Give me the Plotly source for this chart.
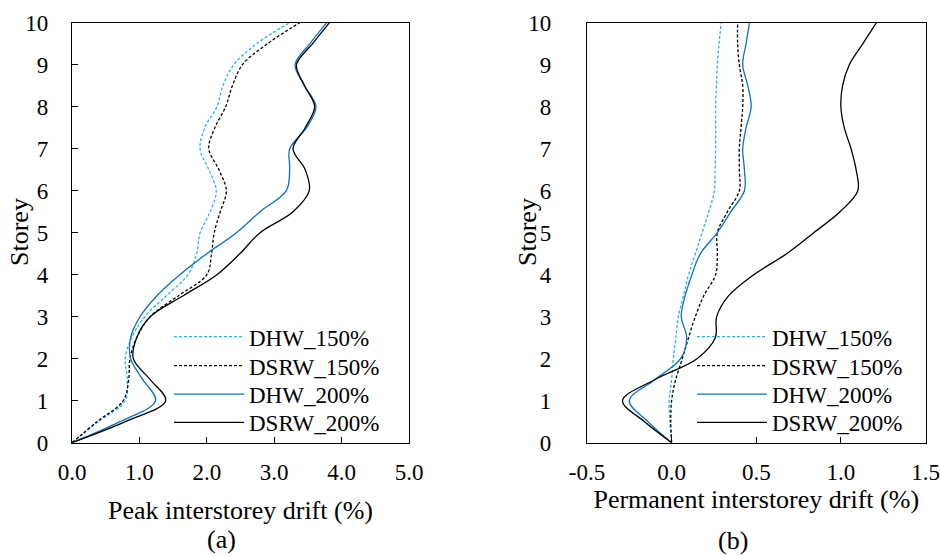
import plotly.graph_objects as go

# ---------------- data ----------------
storey = [0, 0.5, 1, 1.5, 2, 2.5, 3, 3.5, 4, 4.5, 5, 5.5, 6, 6.5, 7, 7.5, 8, 8.5, 9, 9.5, 10]

# (a) Peak interstorey drift (%)
peak_dhw_150 = [0, 0.39, 0.79, 0.82, 0.79, 0.885, 1.08, 1.40, 1.72, 1.85, 1.90, 2.05, 2.14, 2.03, 1.90, 1.97, 2.15, 2.24, 2.40, 2.74, 3.23]
peak_dsrw_150 = [0, 0.37, 0.76, 0.84, 0.86, 0.96, 1.16, 1.58, 2.00, 2.07, 2.11, 2.20, 2.29, 2.18, 2.03, 2.12, 2.28, 2.38, 2.53, 2.90, 3.38]
peak_dhw_200 = [0, 0.71, 1.24, 1.05, 0.87, 0.87, 1.01, 1.26, 1.60, 2.00, 2.44, 2.79, 3.18, 3.23, 3.23, 3.48, 3.62, 3.45, 3.31, 3.53, 3.78]
peak_dsrw_200 = [0, 0.79, 1.39, 1.16, 0.91, 0.96, 1.16, 1.65, 2.15, 2.49, 2.79, 3.28, 3.52, 3.46, 3.28, 3.46, 3.60, 3.45, 3.33, 3.57, 3.82]

# (b) Permanent interstorey drift (%)
perm_dhw_150 = [0, -0.01, -0.015, 0.0, 0.01, 0.025, 0.04, 0.07, 0.10, 0.14, 0.18, 0.22, 0.253, 0.257, 0.26, 0.26, 0.26, 0.265, 0.27, 0.28, 0.293]
perm_dsrw_150 = [0, -0.005, 0.0, 0.024, 0.063, 0.10, 0.14, 0.19, 0.26, 0.27, 0.27, 0.33, 0.40, 0.40, 0.40, 0.41, 0.42, 0.42, 0.40, 0.39, 0.39]
perm_dhw_200 = [0, -0.14, -0.25, -0.10, 0.053, 0.089, 0.057, 0.08, 0.12, 0.17, 0.27, 0.35, 0.43, 0.43, 0.42, 0.44, 0.47, 0.45, 0.42, 0.44, 0.46]
perm_dsrw_200 = [0, -0.16, -0.29, -0.10, 0.15, 0.258, 0.266, 0.337, 0.485, 0.68, 0.84, 0.995, 1.10, 1.09, 1.06, 1.02, 1.00, 1.01, 1.05, 1.13, 1.21]

series_names = ["DHW_150%", "DSRW_150%", "DHW_200%", "DSRW_200%"]

peak_ticks = [0, 1, 2, 3, 4, 5]
peak_ticktext = ["0.0", "1.0", "2.0", "3.0", "4.0", "5.0"]
perm_ticks = [-0.5, 0, 0.5, 1.0, 1.5]
perm_ticktext = ["-0.5", "0.0", "0.5", "1.0", "1.5"]
storey_ticks = list(range(0, 11))

x_titles = ["Peak interstorey drift (%)", "Permanent interstorey drift (%)"]
y_title = "Storey"
panel_labels = ["(a)", "(b)"]

# ---------------- styles ----------------
FONT = "Liberation Serif"
styles = [
    dict(color="#1FB4EE", width=1.3, dash="3px,2px"),
    dict(color="#000000", width=1.3, dash="3px,2px"),
    dict(color="#0A72C4", width=1.3, dash="solid"),
    dict(color="#000000", width=1.3, dash="solid"),
]

W, H = 941, 556
left_dom = [72 / W, 409 / W]
right_dom = [587 / W, 925.5 / W]
y_dom = [(H - 442.7) / H, (H - 22.7) / H]
zero_pos = right_dom[0] + (0 - perm_ticks[0]) / (perm_ticks[-1] - perm_ticks[0]) * (right_dom[1] - right_dom[0])

legend_rows_px = [336.7, 365.7, 394.2, 422.5]
left_leg_x = 169
right_leg_x = 692

fig = go.Figure()

peak_sets = [peak_dhw_150, peak_dsrw_150, peak_dhw_200, peak_dsrw_200]
perm_sets = [perm_dhw_150, perm_dsrw_150, perm_dhw_200, perm_dsrw_200]

legfont = dict(family=FONT, size=23, color="black")
legends = {}
for i, (name, vals, st) in enumerate(zip(series_names, peak_sets, styles)):
    lg = "legend" if i == 0 else f"legend{i + 1}"
    legends[lg] = dict(x=left_leg_x / W, y=(H - legend_rows_px[i]) / H, xanchor="left", yanchor="middle",
                       bgcolor="rgba(0,0,0,0)", font=legfont, itemwidth=70)
    fig.add_trace(go.Scatter(x=vals, y=storey, mode="lines", name=name,
                             line=dict(shape="spline", smoothing=1.0, **st),
                             xaxis="x", yaxis="y", legend=lg))
for i, (name, vals, st) in enumerate(zip(series_names, perm_sets, styles)):
    lg = f"legend{i + 5}"
    legends[lg] = dict(x=right_leg_x / W, y=(H - legend_rows_px[i]) / H, xanchor="left", yanchor="middle",
                       bgcolor="rgba(0,0,0,0)", font=legfont, itemwidth=70)
    fig.add_trace(go.Scatter(x=vals, y=storey, mode="lines", name=name,
                             line=dict(shape="spline", smoothing=1.0, **st),
                             xaxis="x2", yaxis="y2", legend=lg))

tickfont = dict(family=FONT, size=23, color="black")
titlefont = dict(family=FONT, size=26, color="black")
axcommon = dict(showline=True, linecolor="black", linewidth=1.3, mirror=True,
                showgrid=False, zeroline=False, tickfont=tickfont, automargin=False,
                ticks="inside", ticklen=6, tickwidth=1, tickcolor="black")

fig.update_layout(
    width=W, height=H,
    margin=dict(l=0, r=0, t=0, b=0, autoexpand=False),
    paper_bgcolor="white", plot_bgcolor="white",
    font=dict(family=FONT, size=23, color="black"),
    xaxis=dict(domain=left_dom, anchor="y", range=[0, 5], tickvals=peak_ticks, ticktext=peak_ticktext,
               title=dict(text=x_titles[0], font=titlefont, standoff=16),
               ticklabelstandoff=9, **axcommon),
    yaxis=dict(domain=y_dom, anchor="x", range=[0, 10], tickvals=storey_ticks,
               ticklabelstandoff=18, **axcommon),
    xaxis2=dict(domain=right_dom, anchor="y2", range=[-0.5, 1.5], tickvals=perm_ticks, ticktext=perm_ticktext,
                title=dict(text=x_titles[1], font=titlefont, standoff=5),
                ticklabelstandoff=9, **axcommon),
    yaxis2=dict(domain=y_dom, anchor="x2", range=[0, 10], tickvals=storey_ticks,
                showline=True, linecolor="black", linewidth=1.3, mirror=True, automargin=False,
                showgrid=False, zeroline=False, tickfont=tickfont, ticks="",
                ticklabelstandoff=30),
    yaxis3=dict(overlaying="y2", anchor="free", position=zero_pos, range=[0, 10], tickvals=storey_ticks,
                showticklabels=False, showline=True, linecolor="black", linewidth=1.3, automargin=False,
                showgrid=False, zeroline=False, ticks="inside", ticklen=6, tickwidth=1, tickcolor="black"),
    showlegend=True,
    annotations=[
        dict(text=y_title, x=20 / W, y=(H - 232) / H, xref="paper", yref="paper", textangle=-90,
             xanchor="center", yanchor="middle", showarrow=False, font=titlefont),
        dict(text=y_title, x=528 / W, y=(H - 232) / H, xref="paper", yref="paper", textangle=-90,
             xanchor="center", yanchor="middle", showarrow=False, font=titlefont),
        dict(text=panel_labels[0], x=221 / W, y=(H - 539) / H, xref="paper", yref="paper",
             xanchor="center", yanchor="middle", borderpad=0,
             showarrow=False, font=dict(family=FONT, size=26, color="black")),
        dict(text=panel_labels[1], x=733 / W, y=(H - 540) / H, xref="paper", yref="paper",
             xanchor="center", yanchor="middle", borderpad=0,
             showarrow=False, font=dict(family=FONT, size=26, color="black")),
    ],
)
fig.update_layout(**legends)

fig.write_html("out.html", config={"displayModeBar": False},
               post_script="document.body.style.margin='0';")
